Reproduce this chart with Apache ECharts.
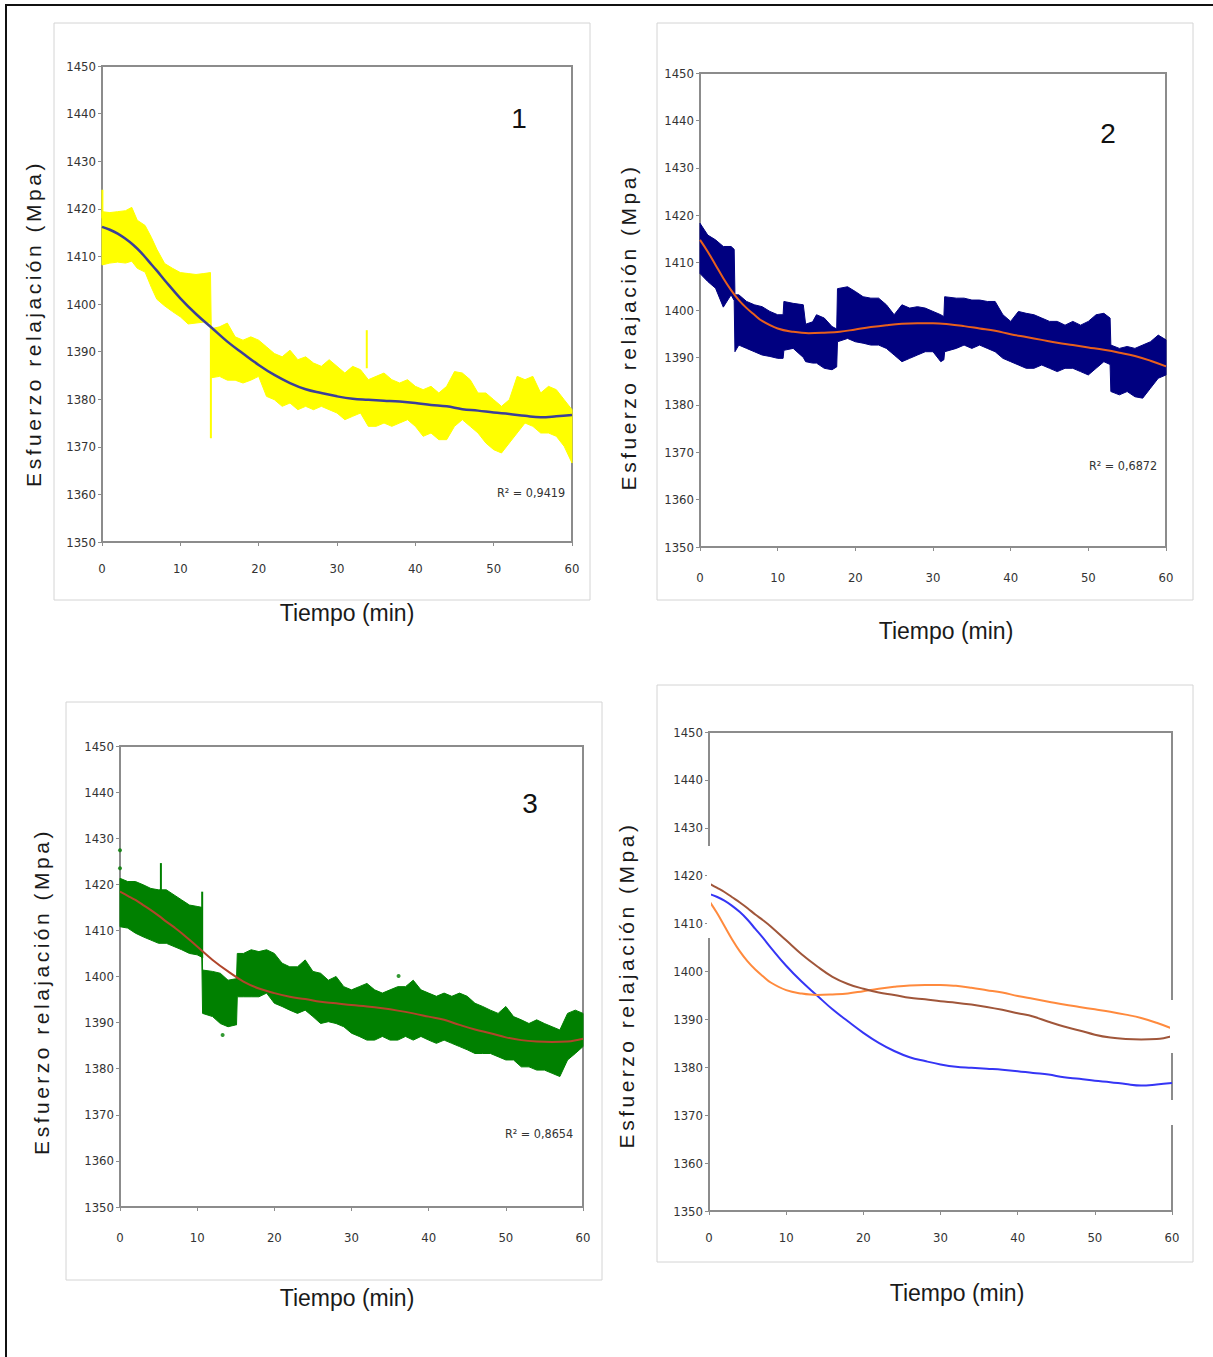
<!DOCTYPE html>
<html><head><meta charset="utf-8">
<script src="https://cdn.jsdelivr.net/npm/echarts@6/dist/echarts.min.js"></script>
<style>
html,body{margin:0;padding:0;background:#fff}
#c{width:1213px;height:1357px}
#c svg text[style*="Arial"], #c svg text[font-family*="Arial"]{letter-spacing:3.5px}
</style>
</head><body><div id="c"></div>
<script>
// ---------- DATA ----------
var X_TICKS = [0, 10, 20, 30, 40, 50, 60];
var Y_MIN = 1350, Y_MAX = 1450;

// Panel 1 (yellow scatter envelope)
var T1 = [0,1,2,3,3.8,4.5,5.5,6.3,7,8,9,10,11,12,13,13.85,13.95,15,16,17,18,19,20,21,22,23,24,25,26,27,28,29,30,31,32,33,34,35,36,37,38,39,40,41,42,43,44,45,46,47,48,49,50,51,52,53,54,55,56,57,58,59,60];
var U1 = [1419.4,1419.2,1419.4,1419.6,1420.3,1417.6,1416.5,1414.0,1411.5,1408.5,1407.5,1406.6,1406.4,1406.2,1406.4,1406.6,1394.8,1395.2,1396.0,1393.1,1392.4,1393.1,1392.4,1391.0,1389.6,1388.9,1390.3,1388.3,1388.9,1387.6,1386.9,1388.3,1386.9,1385.5,1386.9,1386.2,1384.1,1384.8,1385.5,1384.1,1383.4,1384.1,1382.7,1382.0,1382.7,1381.3,1382.7,1385.8,1385.5,1384.1,1381.3,1381.3,1379.9,1378.5,1379.9,1384.8,1384.1,1384.8,1381.3,1382.7,1382.0,1379.9,1377.8];
var L1 = [1408.2,1408.6,1408.8,1408.6,1409.0,1407.5,1406.7,1403.5,1401.0,1399.6,1398.4,1397.3,1395.8,1396.0,1396.2,1396.0,1384.5,1384.8,1384.0,1384.0,1383.4,1384.0,1384.8,1380.6,1379.9,1378.5,1379.2,1377.8,1378.5,1377.8,1378.5,1377.8,1377.1,1375.7,1376.4,1377.1,1374.3,1374.3,1375.0,1374.3,1375.0,1375.7,1374.3,1372.2,1372.9,1371.5,1371.5,1374.3,1375.7,1374.3,1372.9,1370.8,1369.4,1368.7,1370.8,1372.9,1375.0,1374.3,1372.9,1372.9,1372.2,1370.1,1366.6];
var SPK1_T = [0.05, 13.9, 33.8];
var SPK1_LO = [1418.0, 1371.8, 1386.5];
var SPK1_HI = [1424.0, 1395.0, 1394.5];

// Panel 2 (navy scatter envelope)
var T2 = [0,1,2,3,4,4.4,4.5,5,6,7,8,9,10,10.7,10.8,12,13.3,13.6,14.5,15,16,17,17.6,17.7,19,20,21,22,23,24,25,26,27,28,29,30,31,31.4,31.5,33,34,35,36,37,38,39,40,41,42,43,44,45,46,47,48,49,50,51,52,52.8,52.9,54,55,56,57,58,59,60];
var U2 = [1418.3,1415.8,1414.8,1413.4,1413.4,1412.8,1403.2,1403.2,1401.8,1401.1,1400.7,1399.7,1399.0,1399.0,1401.8,1401.4,1401.1,1397.0,1397.5,1399.0,1398.3,1396.5,1396.0,1404.5,1404.9,1403.9,1402.8,1402.5,1402.5,1401.1,1399.0,1401.1,1400.4,1400.7,1400.4,1399.7,1399.0,1398.6,1402.8,1402.5,1402.5,1402.1,1402.1,1401.8,1401.8,1399.0,1397.6,1399.7,1399.3,1399.0,1398.3,1397.6,1397.6,1396.8,1397.6,1396.8,1397.6,1399.0,1399.3,1398.3,1392.6,1391.9,1392.3,1391.9,1392.6,1393.3,1394.7,1393.7];
var L2 = [1407.7,1406.0,1404.6,1400.6,1403.2,1402.0,1391.2,1392.6,1391.9,1391.2,1390.5,1390.2,1389.8,1389.8,1391.5,1391.9,1390.0,1389.1,1388.8,1388.8,1387.7,1387.4,1388.0,1393.3,1394.0,1393.3,1393.0,1392.6,1392.6,1391.9,1390.5,1389.1,1389.8,1390.5,1391.2,1391.2,1389.1,1389.5,1391.2,1391.9,1392.6,1391.9,1392.6,1391.9,1391.2,1389.8,1389.1,1388.4,1387.7,1387.7,1388.4,1387.7,1387.0,1387.7,1387.7,1387.0,1386.3,1387.7,1389.1,1388.5,1382.8,1382.1,1382.8,1381.7,1381.4,1383.5,1385.6,1386.3];

// Panel 3 (green scatter envelope)
var T3 = [0,1,2,3,4,5,6,7,8,9,10,10.6,10.7,12,13,14,15,15.1,15.2,16,17,18,19,20,21,22,23,24,25,26,27,28,29,30,31,32,33,34,35,36,37,38,39,40,41,42,43,44,45,46,47,48,49,50,51,52,53,54,55,56,57,58,59,60];
var U3 = [1421.3,1420.6,1420.6,1419.9,1419.1,1418.8,1418.8,1417.7,1416.6,1415.5,1415.2,1415.0,1401.4,1401.1,1400.7,1399.2,1399.5,1399.5,1405.0,1405.0,1405.8,1405.4,1405.8,1405.0,1402.9,1402.1,1402.1,1403.6,1401.1,1400.7,1399.2,1400.0,1397.8,1397.1,1397.8,1398.5,1397.1,1396.4,1397.1,1397.8,1397.8,1399.2,1397.1,1396.4,1395.7,1396.4,1395.7,1396.4,1395.7,1394.2,1393.5,1392.7,1392.0,1393.5,1391.3,1390.6,1389.8,1390.6,1389.8,1389.1,1388.4,1392.0,1392.7,1392.0];
var L3 = [1410.8,1410.5,1409.4,1408.6,1407.9,1407.2,1407.2,1406.5,1405.8,1405.0,1404.7,1404.2,1392.0,1391.3,1389.8,1389.1,1389.5,1389.5,1395.6,1395.6,1395.6,1395.6,1396.4,1394.2,1393.5,1392.7,1392.0,1392.7,1391.3,1389.8,1390.2,1389.8,1389.1,1387.7,1387.0,1386.2,1386.2,1387.0,1386.2,1386.2,1387.0,1386.2,1387.0,1386.2,1385.5,1386.2,1385.5,1384.8,1384.1,1383.3,1383.3,1383.3,1382.6,1381.9,1381.9,1380.4,1380.4,1379.7,1379.7,1379.0,1378.3,1381.9,1383.3,1384.8];
var SPK3_T = [10.65, 5.3];
var SPK3_LO = [1404.0, 1418.0];
var SPK3_HI = [1418.4, 1424.6];
var OUT3_T = [0, 0, 13.3, 36.1];
var OUT3_V = [1427.4, 1423.5, 1387.3, 1400.1];

// Fitted trend curves (polynomial fits), shared time grid
var FIT_T = [0,1,2,3,4,5,6,7,8,10,12,14,16,18,20,22,24,26,28,30,32,34,36,38,40,42,44,46,48,50,52,54,56,58,60];
var FIT1 = [1416.2,1415.6,1414.8,1413.7,1412.4,1410.8,1408.9,1407.0,1405.0,1401.2,1397.9,1395.0,1392.1,1389.6,1387.2,1385.1,1383.4,1382.1,1381.3,1380.6,1380.1,1379.9,1379.7,1379.5,1379.2,1378.8,1378.5,1377.9,1377.6,1377.2,1376.9,1376.5,1376.2,1376.4,1376.7];
var FIT2 = [1414.8,1412.3,1409.5,1406.7,1404.2,1402.1,1400.4,1399.0,1397.7,1396.1,1395.4,1395.1,1395.2,1395.4,1395.9,1396.4,1396.8,1397.1,1397.2,1397.2,1397.0,1396.6,1396.1,1395.6,1394.9,1394.3,1393.7,1393.1,1392.6,1392.1,1391.6,1391.0,1390.3,1389.3,1388.1];
var FIT3 = [1418.4,1417.5,1416.6,1415.5,1414.4,1413.2,1411.9,1410.7,1409.4,1406.5,1403.6,1401.1,1398.9,1397.4,1396.4,1395.6,1395.1,1394.5,1394.2,1393.8,1393.5,1393.1,1392.6,1392.0,1391.3,1390.6,1389.5,1388.5,1387.7,1386.8,1386.2,1385.9,1385.8,1385.9,1386.5];

var R2_TEXT = ['R\u00b2 = 0,9419', 'R\u00b2 = 0,6872', 'R\u00b2 = 0,8654'];
var PANEL_NO = ['1', '2', '3'];
var X_NAME = 'Tiempo (min)';
var Y_NAME = 'Esfuerzo relajación (Mpa)';

// ---------- helpers ----------
function zip3(t, a, b) { return t.map(function (v, i) { return [v, a[i], b[i]]; }); }
function zip2(t, a) { return t.map(function (v, i) { return [v, a[i]]; }); }

function bandRender(params, api) {
  if (params.dataIndexInside !== 0) return null;
  var n = params.dataInsideLength, top = [], bot = [];
  for (var i = 0; i < n; i++) {
    var t = api.value(0, i);
    top.push(api.coord([t, api.value(2, i)]));
    bot.push(api.coord([t, api.value(1, i)]));
  }
  var c = api.visual('color');
  return { type: 'polygon', shape: { points: top.concat(bot.reverse()) },
           style: { fill: c, stroke: c, lineWidth: 1 } };
}
function spikeRender(params, api) {
  var a = api.coord([api.value(0), api.value(1)]);
  var b = api.coord([api.value(0), api.value(2)]);
  return { type: 'line', shape: { x1: a[0], y1: a[1], x2: b[0], y2: b[1] },
           style: { stroke: api.visual('color'), lineWidth: 2 } };
}

var TICK_FONT = "'Liberation Sans Narrow','DejaVu Sans Condensed',sans-serif";
var AX = '#8c8c8c';

var GRIDS = [
  { left: 102, top: 66, width: 470, height: 476 },
  { left: 700, top: 73, width: 466, height: 474 },
  { left: 120, top: 746, width: 463, height: 461 },
  { left: 709, top: 732, width: 463, height: 479 }
];
var XLAB_MARGIN = [20, 24, 24, 20];
var XNAME_GAP = [59, 72, 79, 70];
var XNAME_PAD = [[0,0,0,20],[0,0,0,26],[0,9,0,0],[0,0,0,33]];
var YNAME_GAP = [58, 61, 68, 72];
var YNAME_PAD = [[0,39,0,0],[0,34,0,0],[0,30,0,0],[0,27,0,0]];

var grid = [], xAxis = [], yAxis = [];
for (var g = 0; g < 4; g++) {
  grid.push(Object.assign({ show: true, borderColor: AX, borderWidth: 2, backgroundColor: '#fff' }, GRIDS[g]));
  xAxis.push({
    gridIndex: g, type: 'value', min: 0, max: 60, interval: 10,
    name: X_NAME, nameLocation: 'middle', nameGap: XNAME_GAP[g],
    nameTextStyle: { fontFamily: "'Liberation Sans',sans-serif", fontSize: 23, color: '#1a1a1a', padding: XNAME_PAD[g] },
    axisLine: { show: true, lineStyle: { color: AX, width: 2 } },
    axisTick: { show: true, inside: false, length: 4, lineStyle: { color: AX } },
    axisLabel: { margin: XLAB_MARGIN[g], fontFamily: TICK_FONT, fontSize: 13, color: '#333',
                 formatter: function (v) { return X_TICKS.indexOf(v) >= 0 ? String(v) : ''; } },
    splitLine: { show: false }
  });
  yAxis.push({
    gridIndex: g, type: 'value', min: Y_MIN, max: Y_MAX, interval: 10,
    name: Y_NAME, nameLocation: 'middle', nameGap: YNAME_GAP[g], nameRotate: 90,
    nameTextStyle: { fontFamily: 'Arial', fontSize: 21, color: '#1a1a1a', padding: YNAME_PAD[g] },
    axisLine: { show: true, lineStyle: { color: AX, width: 2 } },
    axisTick: { show: true, inside: false, length: 4, lineStyle: { color: AX } },
    axisLabel: { margin: 6, fontFamily: TICK_FONT, fontSize: 13, color: '#333',
                 formatter: function (v) { return String(v); } },
    splitLine: { show: false }
  });
}

var series = [
  { type: 'custom', name: 'Datos 1', xAxisIndex: 0, yAxisIndex: 0, renderItem: bandRender,
    itemStyle: { color: '#ffff00' }, encode: { x: 0, y: [1, 2] }, data: zip3(T1, L1, U1), z: 2 },
  { type: 'custom', name: 'Picos 1', xAxisIndex: 0, yAxisIndex: 0, renderItem: spikeRender,
    itemStyle: { color: '#ffff00' }, encode: { x: 0, y: [1, 2] }, data: zip3(SPK1_T, SPK1_LO, SPK1_HI), z: 2 },
  { type: 'line', name: 'Ajuste 1', xAxisIndex: 0, yAxisIndex: 0, data: zip2(FIT_T, FIT1), smooth: 0.4,
    showSymbol: false, lineStyle: { color: '#3b3f99', width: 2.5 }, z: 3 },

  { type: 'custom', name: 'Datos 2', xAxisIndex: 1, yAxisIndex: 1, renderItem: bandRender,
    itemStyle: { color: '#000080' }, encode: { x: 0, y: [1, 2] }, data: zip3(T2, L2, U2), z: 2 },
  { type: 'line', name: 'Ajuste 2', xAxisIndex: 1, yAxisIndex: 1, data: zip2(FIT_T, FIT2), smooth: 0.4,
    showSymbol: false, lineStyle: { color: '#e8601c', width: 2 }, z: 3 },

  { type: 'custom', name: 'Datos 3', xAxisIndex: 2, yAxisIndex: 2, renderItem: bandRender,
    itemStyle: { color: '#008000' }, encode: { x: 0, y: [1, 2] }, data: zip3(T3, L3, U3), z: 2 },
  { type: 'custom', name: 'Picos 3', xAxisIndex: 2, yAxisIndex: 2, renderItem: spikeRender,
    itemStyle: { color: '#008000' }, encode: { x: 0, y: [1, 2] }, data: zip3(SPK3_T, SPK3_LO, SPK3_HI), z: 2 },
  { type: 'scatter', name: 'Atípicos 3', xAxisIndex: 2, yAxisIndex: 2, data: zip2(OUT3_T, OUT3_V),
    symbolSize: 4, itemStyle: { color: '#008000' }, z: 2 },
  { type: 'line', name: 'Ajuste 3', xAxisIndex: 2, yAxisIndex: 2, data: zip2(FIT_T, FIT3), smooth: 0.4,
    showSymbol: false, lineStyle: { color: '#b0452a', width: 2 }, z: 3 },

  { type: 'line', name: 'Ajuste 1', xAxisIndex: 3, yAxisIndex: 3, data: zip2(FIT_T, FIT1), smooth: 0.4,
    showSymbol: false, lineStyle: { color: '#3535f5', width: 2 }, z: 3 },
  { type: 'line', name: 'Ajuste 2', xAxisIndex: 3, yAxisIndex: 3, data: zip2(FIT_T, FIT2), smooth: 0.4,
    showSymbol: false, lineStyle: { color: '#ff8a3d', width: 2 }, z: 3 },
  { type: 'line', name: 'Ajuste 3', xAxisIndex: 3, yAxisIndex: 3, data: zip2(FIT_T, FIT3), smooth: 0.4,
    showSymbol: false, lineStyle: { color: '#a0563a', width: 2 }, z: 3 }
];

var BOX = '#d4d4d4';
var R2_FONT = "12.5px " + TICK_FONT;
var graphic = [
  { type: 'rect', z: -10, shape: { x: 6, y: 5, width: 1240, height: 1400 }, style: { fill: 'none', stroke: '#111', lineWidth: 2 } },
  { type: 'rect', z: -10, shape: { x: 54, y: 23, width: 536, height: 577 }, style: { fill: 'none', stroke: BOX, lineWidth: 1 } },
  { type: 'rect', z: -10, shape: { x: 657, y: 23, width: 536, height: 577 }, style: { fill: 'none', stroke: BOX, lineWidth: 1 } },
  { type: 'rect', z: -10, shape: { x: 66, y: 702, width: 536, height: 578 }, style: { fill: 'none', stroke: BOX, lineWidth: 1 } },
  { type: 'rect', z: -10, shape: { x: 657, y: 685, width: 536, height: 577 }, style: { fill: 'none', stroke: BOX, lineWidth: 1 } },
  // breaks in the axis frame of panel 4 (as in the original)
  { type: 'rect', z: 100, shape: { x: 707, y: 846, width: 4, height: 92 }, style: { fill: '#fff' } },
  { type: 'rect', z: 100, shape: { x: 1170, y: 1000, width: 4, height: 53 }, style: { fill: '#fff' } },
  { type: 'rect', z: 100, shape: { x: 1170, y: 1100, width: 4, height: 25 }, style: { fill: '#fff' } },
  { type: 'text', z: 100, style: { text: PANEL_NO[0], x: 519, y: 118, align: 'center', verticalAlign: 'middle', font: "28px 'Liberation Sans',sans-serif", fill: '#111' } },
  { type: 'text', z: 100, style: { text: PANEL_NO[1], x: 1108, y: 133, align: 'center', verticalAlign: 'middle', font: "28px 'Liberation Sans',sans-serif", fill: '#111' } },
  { type: 'text', z: 100, style: { text: PANEL_NO[2], x: 530, y: 803, align: 'center', verticalAlign: 'middle', font: "28px 'Liberation Sans',sans-serif", fill: '#111' } },
  { type: 'text', z: 100, style: { text: R2_TEXT[0], x: 531, y: 492, align: 'center', verticalAlign: 'middle', font: R2_FONT, fill: '#333' } },
  { type: 'text', z: 100, style: { text: R2_TEXT[1], x: 1123, y: 465, align: 'center', verticalAlign: 'middle', font: R2_FONT, fill: '#333' } },
  { type: 'text', z: 100, style: { text: R2_TEXT[2], x: 539, y: 1133, align: 'center', verticalAlign: 'middle', font: R2_FONT, fill: '#333' } }
];

var chart = echarts.init(document.getElementById('c'), null, { renderer: 'svg' });
chart.setOption({
  backgroundColor: '#fff',
  animation: false,
  grid: grid, xAxis: xAxis, yAxis: yAxis, series: series, graphic: graphic
});
</script></body></html>
